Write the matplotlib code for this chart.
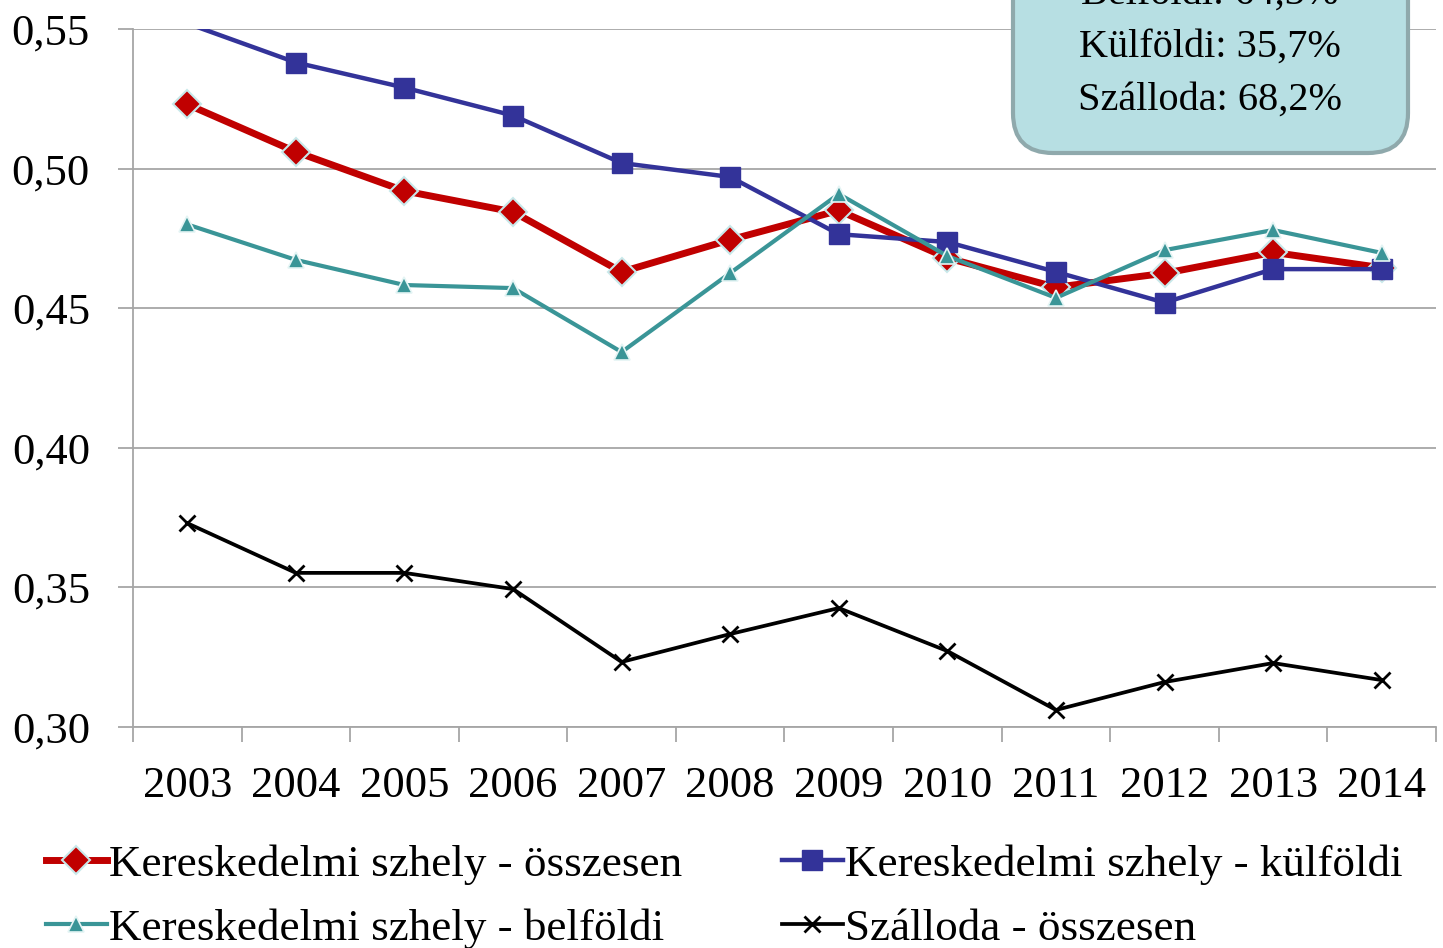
import matplotlib
matplotlib.use("Agg")
import matplotlib.pyplot as plt
from matplotlib.patches import FancyBboxPatch

plt.rcParams["font.family"] = ["Liberation Serif", "DejaVu Serif"]

years = ["2003", "2004", "2005", "2006", "2007", "2008",
         "2009", "2010", "2011", "2012", "2013", "2014"]

ker_osszesen = [0.523, 0.506, 0.492, 0.4845, 0.463, 0.4745,
                0.485, 0.468, 0.4575, 0.4625, 0.470, 0.4645]
ker_kulfoldi = [0.552, 0.538, 0.529, 0.519, 0.502, 0.497,
                0.4765, 0.4737, 0.463, 0.452, 0.464, 0.464]
ker_belfoldi = [0.480, 0.4673, 0.4583, 0.4572, 0.4343, 0.4626,
                0.4909, 0.4687, 0.4537, 0.4708, 0.478, 0.4698]
szalloda = [0.373, 0.3552, 0.3552, 0.3494, 0.3233, 0.3333,
            0.3426, 0.3272, 0.3061, 0.3161, 0.3229, 0.3168]

box_lines = ["Belföldi: 64,3%", "Külföldi: 35,7%", "Szálloda: 68,2%"]

y_min, y_max = 0.30, 0.55
y_ticks = [0.30, 0.35, 0.40, 0.45, 0.50, 0.55]

W, H = 1443, 948
fig = plt.figure(figsize=(W / 100, H / 100), dpi=100)
ax = fig.add_axes([133 / W, 1 - 727 / H, (1436 - 133) / W, (727 - 29) / H])

x = list(range(len(years)))


def visible(values):
    # Excel drops markers that fall outside the plot area
    return [i for i, v in enumerate(values) if y_min <= v <= y_max]


l_red, = ax.plot(x, ker_osszesen, color="#C00000", lw=5, marker="D", ms=14,
                 mec="#C8E8EA", mew=1.5, markevery=visible(ker_osszesen),
                 label="Kereskedelmi szhely - összesen", zorder=4)
l_blue, = ax.plot(x, ker_kulfoldi, color="#333399", lw=3.2, marker="s", ms=14,
                  mec="#333399", markevery=visible(ker_kulfoldi),
                  label="Kereskedelmi szhely - külföldi", zorder=5)
l_teal, = ax.plot(x, ker_belfoldi, color="#3A9597", lw=3, marker="^", ms=12,
                  mec="#E4F4F4", mew=1.2, markevery=visible(ker_belfoldi),
                  label="Kereskedelmi szhely - belföldi", zorder=6)
l_black, = ax.plot(x, szalloda, color="black", lw=2.7, marker="x", ms=12,
                   mew=2, label="Szálloda - összesen", zorder=3)

ax.set_xlim(-0.5, len(years) - 0.5)
ax.set_ylim(y_min, y_max)
ax.set_yticks(y_ticks)
ax.set_yticklabels([f"{t:.2f}".replace(".", ",") for t in y_ticks])
ax.set_xticks(x)
ax.set_xticklabels(years)
ax.set_xticks([i - 0.5 for i in range(len(years) + 1)], minor=True)

ax.grid(axis="y", color="#A6A6A6", lw=1.3)
ax.set_axisbelow(True)
for side in ["top", "right"]:
    ax.spines[side].set_visible(False)
for side in ["left", "bottom"]:
    ax.spines[side].set_color("#A6A6A6")
    ax.spines[side].set_linewidth(1.3)

ax.tick_params(axis="y", length=11, width=1.3, color="#A6A6A6",
               labelsize=32, pad=20)
ax.tick_params(axis="x", which="major", length=0, labelsize=32, pad=28)
ax.tick_params(axis="x", which="minor", length=11, width=1.3, color="#A6A6A6")

fig.legend(handles=[l_red, l_teal, l_blue, l_black], ncol=2, frameon=False,
           loc="upper left", bbox_to_anchor=(46 / W, 1 - 844 / H),
           fontsize=32.5, handlelength=1.35, handletextpad=0.05,
           columnspacing=2.2, borderpad=0, borderaxespad=0, labelspacing=0.52)

box = FancyBboxPatch((1013 / W, 1 - 153 / H), (1408 - 1013) / W, 0.3,
                     boxstyle=f"round,pad=0,rounding_size={40 / W}",
                     mutation_aspect=W / H, transform=fig.transFigure,
                     fc="#B7DFE3", ec="#8FA9AC", lw=3, zorder=10)
fig.patches.append(box)
for i, line in enumerate(box_lines):
    fig.text(1210 / W, 1 - (4 + 53 * i) / H, line, ha="center",
             va="baseline", fontsize=29, zorder=11)

fig.savefig("out.png", dpi=100)
